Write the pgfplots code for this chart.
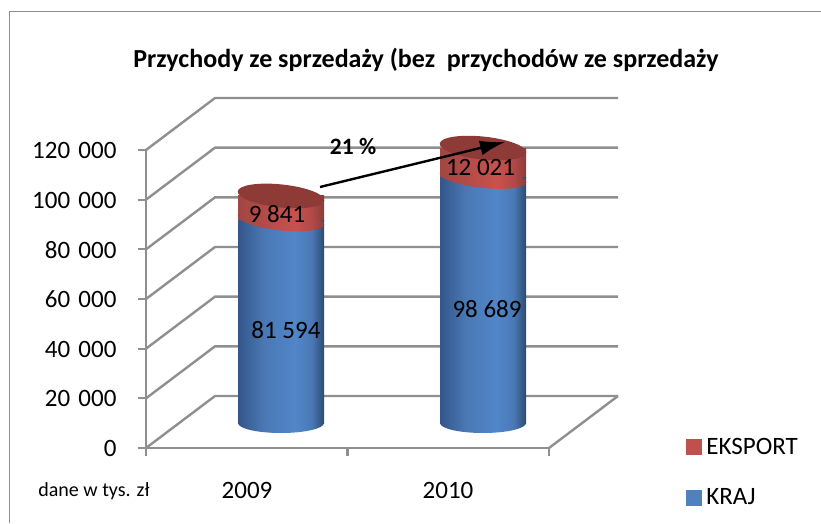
\documentclass[border=0pt]{standalone}
\usepackage{fontspec}
\setmainfont{Carlito}
\usepackage{pgfplots}
\pgfplotsset{compat=1.18}
\usetikzlibrary{arrows.meta,shapes.geometric}
\definecolor{gridgray}{HTML}{8F8F8F}
\definecolor{framegray}{HTML}{8E8E8E}
\definecolor{eksport}{HTML}{C0504D}
\definecolor{kraj}{HTML}{4F81BD}
\definecolor{captop}{HTML}{8E3B38}
\definecolor{HTMLblueA}{HTML}{33568A}
\definecolor{HTMLblueB}{HTML}{4A78B4}
\definecolor{HTMLblueC}{HTML}{5186CA}
\definecolor{HTMLblueD}{HTML}{2D4A70}
\definecolor{HTMLredA}{HTML}{A04643}
\definecolor{HTMLredB}{HTML}{B04946}
\definecolor{HTMLredC}{HTML}{C9514E}
\definecolor{HTMLredD}{HTML}{8A3C3A}
\pgfdeclarehorizontalshading{cylblue}{100bp}{color(0bp)=(HTMLblueA);color(25bp)=(HTMLblueA);color(40bp)=(HTMLblueB);color(58bp)=(HTMLblueC);color(68bp)=(HTMLblueB);color(75bp)=(HTMLblueD);color(100bp)=(HTMLblueD)}
\pgfdeclarehorizontalshading{cylred}{100bp}{color(0bp)=(HTMLredA);color(25bp)=(HTMLredA);color(58bp)=(HTMLredC);color(68bp)=(HTMLredB);color(75bp)=(HTMLredD);color(100bp)=(HTMLredD)}
% 1px of the reference = 1pt here; origin = axis corner at (146,448)
\newcommand{\px}[2]{({(#1-146)*1pt},{(448-#2)*1pt})}
\pgfplotsset{
  common/.style={
    anchor=origin, at={(0,0)},
    scale only axis, width=403pt, height=298pt,
    xmin=146, xmax=549, ymin=0, ymax=120000,
    clip=false, enlargelimits=false},
  % stacked nodes sit mid-bar, so lift them by half the bar height
  cap/.style={
    visualization depends on={rawy/805.37 \as \halfh},
    nodes near coords={},
    every node near coord/.append style={
      yshift=\halfh pt, anchor=center, ellipse, inner sep=0pt, rotate=-6,
      minimum width=87pt, minimum height=#1}}
}
% one stacked cylinder: x position, KRAJ, EKSPORT
\newcommand{\cylinder}[3]{
\begin{axis}[common, hide axis, ybar stacked, bar width=86pt]
\addplot[draw=none,fill=none,
  cap=20pt, every node near coord/.append style={shading=cylblue,rotate=6,minimum width=86pt}]
  coordinates {(#1,10067)}; % lift above the front floor edge
\addplot[draw=none,shading=cylblue,
  cap=20pt, every node near coord/.append style={shading=cylred}]
  coordinates {(#1,#2)};
\addplot[draw=none,shading=cylred,
  cap=23pt, every node near coord/.append style={fill=captop}]
  coordinates {(#1,#3)};
\end{axis}}
\begin{document}
\begin{tikzpicture}
\path[use as bounding box] \px{0}{0} rectangle \px{821}{523};
\draw[framegray,line width=1.3pt] \px{821}{11.5} -- \px{9.5}{11.5} -- \px{9.5}{523};
\begin{axis}[common,
  axis x line=bottom, axis y line=left,
  axis line style={-,gridgray,line width=2.4pt},
  tick style={gridgray,line width=2.2pt},
  major tick length=8pt,
  tick align=outside,
  ytick={0,20000,...,120000},
  xtick={146,347.5,549}, xticklabels={},
  extra x ticks={247,448}, extra x tick labels={2009,2010},
  extra x tick style={tick style={draw=none},
    xticklabel style={yshift=-23pt}},
  tick label style={font=\fontsize{25}{30}\selectfont},
  yticklabel style={xshift=-18pt,yshift=-0.5pt},
  /pgf/number format/fixed,
  /pgf/number format/assume math mode=true,
  /pgf/number format/1000 sep={\hspace{0.33em}},
  scaled y ticks=false,
  legend style={at={(axis cs:683,5680)},anchor=north west,draw=none,fill=none,
    font=\fontsize{25}{30}\selectfont,row sep=29pt},
  legend cell align=left,
]
% side wall, back wall, floor
\pgfplotsinvokeforeach{0,20000,40000,60000,80000,100000,120000}{
  \draw[gridgray,line width=2.4pt] (axis cs:146,#1) -- (axis cs:215,{#1+20940}) -- (axis cs:618,{#1+20940});
}
\draw[gridgray,line width=2.4pt] (axis cs:549,0) -- (axis cs:618,20940);
\addlegendimage{legend image code/.code={\fill[eksport] (0pt,-7.5pt) rectangle (15pt,7.5pt); \path[draw=none] (0pt,0pt) -- (18pt,0pt);}}
\addlegendentry{EKSPORT}
\addlegendimage{legend image code/.code={\fill[kraj] (0pt,-7.5pt) rectangle (15pt,7.5pt); \path[draw=none] (0pt,0pt) -- (18pt,0pt);}}
\addlegendentry{KRAJ}
\end{axis}
\cylinder{281}{81594}{9841}
\cylinder{483}{98689}{12021}
\node[font=\bfseries\fontsize{26}{31}\selectfont] at \px{426}{60} {Przychody ze sprzedaży (bez\ \ przychodów ze sprzedaży};
\node[font=\fontsize{25}{30}\selectfont] at \px{277}{214} {9 841};
\node[font=\fontsize{25}{30}\selectfont] at \px{480.5}{167} {12 021};
\node[font=\fontsize{25}{30}\selectfont] at \px{286}{330} {81 594};
\node[font=\fontsize{25}{30}\selectfont] at \px{487}{309} {98 689};
\node[font=\bfseries\fontsize{23.5}{28}\selectfont] at \px{353}{146} {21 \%};
\node[font=\fontsize{20}{24}\selectfont] at \px{94}{491} {dane w tys. zł};
\draw[black,line width=2.4pt,-{Latex[length=25pt,width=15pt]}] \px{320}{187} -- \px{505}{142};
\end{tikzpicture}
\end{document}
